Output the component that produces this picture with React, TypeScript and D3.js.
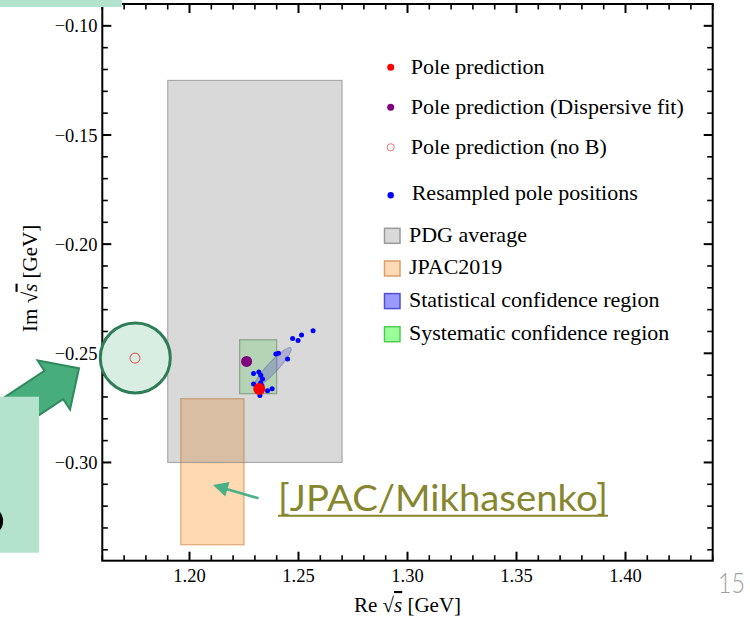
import React from "react";
import * as d3 from "d3";

// Axis ranges and tick labels
const reDomain = [1.16, 1.44];
const imDomain = [-0.09, -0.345];
const reTicks = [1.2, 1.25, 1.3, 1.35, 1.4];
const imTicks = [-0.1, -0.15, -0.2, -0.25, -0.3];

// Pole positions [Re, Im] in GeV
const polePrediction = [1.232, -0.2664];
const dispersivePole = [1.2262, -0.2537];
const noBPole = [1.175, -0.2522];

// Resampled pole positions
const resampledRe = [1.2567, 1.2514, 1.2473, 1.2498, 1.2396, 1.2408, 1.245, 1.2294, 1.2318, 1.2327, 1.2335, 1.2294, 1.2326, 1.2358, 1.2379, 1.2323, 1.2309, 1.2332];
const resampledIm = [-0.2397, -0.2416, -0.2432, -0.2441, -0.2503, -0.25, -0.2526, -0.2593, -0.2586, -0.2601, -0.2618, -0.2641, -0.2636, -0.2671, -0.2662, -0.2693, -0.2658, -0.2648];

// Regions: [reMin, reMax, imMin, imMax]
const pdgBox = [1.19, 1.27, -0.3, -0.125];
const jpacBox = [1.196, 1.225, -0.3377, -0.2708];
const systematicBox = [1.223, 1.24, -0.2685, -0.2438];
// Statistical ellipse: centre [Re, Im], semi-axes, tilt in degrees
const statCenter = [1.2382, -0.2564];
const statSemiAxes = [0.0122, 0.0024];
const statTilt = 47;

// Legend labels
const pointLabels = ["Pole prediction", "Pole prediction (Dispersive fit)", "Pole prediction (no B)", "Resampled pole positions"];
const regionLabels = ["PDG average", "JPAC2019", "Statistical confidence region", "Systematic confidence region"];

const W = 750;
const H = 627;
const serif = "'Liberation Serif', 'Times New Roman', serif";

export default function App() {
  const x = d3.scaleLinear().domain(reDomain).range([102.3, 712.7]);
  const y = d3.scaleLinear().domain(imDomain).range([4, 560.7]);
  const [x0, x1] = x.range();
  const [y0, y1] = y.range();

  const reMinor = d3.range(116, 145).filter((v) => v % 5 !== 0).map((v) => v / 100);
  const imMinor = d3.range(-34, -8).filter((v) => v % 5 !== 0).map((v) => v / 100);

  const box = (b: number[]) => ({
    x: x(b[0]),
    y: y(b[3]),
    width: x(b[1]) - x(b[0]),
    height: y(b[2]) - y(b[3]),
  });

  const ecx = x(statCenter[0]);
  const ecy = y(statCenter[1]);
  const erx = x(reDomain[0] + statSemiAxes[0]) - x(reDomain[0]);
  const ery = x(reDomain[0] + statSemiAxes[1]) - x(reDomain[0]);

  const majorLen = 9;
  const minorLen = 5.5;
  const fmt = (v: number) => (v < 0 ? "\u2212" + Math.abs(v).toFixed(2) : v.toFixed(2));

  // Legend layout
  const pointRows = [67.3, 107.3, 147.3, 195.3];
  const pointBase = [73.5, 113.5, 153.5, 199.5];
  const swatchTops = [228.3, 261, 293.6, 326.7];
  const swatchFill = ["#d9d9d9", "#fdd9b5", "#9999ff", "#99ff99"];
  const swatchStroke = ["#9a9a9a", "#d9a06a", "#5050d0", "#50cc50"];

  // Block arrow geometry
  const tip = [79, 368.3];
  const ux = 0.834, uy = -0.552;
  const nx = -0.552, ny = -0.834;
  const headLen = 30.2, headHalf = 29.4, shaftHalf = 17, tail = 130;
  const mx = tip[0] - ux * headLen, my = tip[1] - uy * headLen;
  const arrowPts = [
    [tip[0], tip[1]],
    [mx + nx * headHalf, my + ny * headHalf],
    [mx + nx * shaftHalf, my + ny * shaftHalf],
    [mx + nx * shaftHalf - ux * tail, my + ny * shaftHalf - uy * tail],
    [mx - nx * shaftHalf - ux * tail, my - ny * shaftHalf - uy * tail],
    [mx - nx * shaftHalf, my - ny * shaftHalf],
    [mx - nx * headHalf, my - ny * headHalf],
  ];

  // Thin pointer arrow
  const pStart = [258.5, 498.3];
  const pTip = [213, 485];
  const pdx = pTip[0] - pStart[0], pdy = pTip[1] - pStart[1];
  const pl = Math.hypot(pdx, pdy);
  const pux = pdx / pl, puy = pdy / pl;
  const ph = 15, pw = 7.5;
  const pbx = pTip[0] - pux * ph, pby = pTip[1] - puy * ph;

  return (
    <svg width={W} height={H} style={{ position: "absolute", left: 0, top: 0, background: "#fff" }}>
      {/* Regions */}
      <rect {...box(jpacBox)} fill="#ff8000" fillOpacity={0.3} stroke="#cc7a33" strokeOpacity={0.6} strokeWidth={1.2} />
      <rect {...box(pdgBox)} fill="#808080" fillOpacity={0.3} stroke="#808080" strokeOpacity={0.6} strokeWidth={1.2} />
      <rect {...box(systematicBox)} fill="#64c864" fillOpacity={0.3} stroke="#5a7a5a" strokeOpacity={0.55} strokeWidth={1.2} />
      <ellipse cx={ecx} cy={ecy} rx={erx} ry={ery} transform={`rotate(${-statTilt} ${ecx} ${ecy})`} fill="#5050c8" fillOpacity={0.3} stroke="#7070a0" strokeOpacity={0.5} strokeWidth={1} />

      {/* Resampled poles */}
      {resampledRe.map((re, i) => (
        <circle key={i} cx={x(re)} cy={y(resampledIm[i])} r={2.5} fill="#0000ff" />
      ))}
      <circle cx={x(dispersivePole[0])} cy={y(dispersivePole[1])} r={5.5} fill="#800080" />
      <circle cx={x(polePrediction[0])} cy={y(polePrediction[1])} r={6} fill="#ff0000" />

      {/* Frame */}
      <rect x={x0} y={y0} width={x1 - x0} height={y1 - y0} fill="none" stroke="#000" strokeWidth={2} />
      {reTicks.map((v) => (
        <g key={"rt" + v} stroke="#000" strokeWidth={2}>
          <line x1={x(v)} x2={x(v)} y1={y1} y2={y1 - majorLen} />
          <line x1={x(v)} x2={x(v)} y1={y0} y2={y0 + majorLen} />
        </g>
      ))}
      {reMinor.map((v) => (
        <g key={"rm" + v} stroke="#000" strokeWidth={1.6}>
          <line x1={x(v)} x2={x(v)} y1={y1} y2={y1 - minorLen} />
          <line x1={x(v)} x2={x(v)} y1={y0} y2={y0 + minorLen} />
        </g>
      ))}
      {imTicks.map((v) => (
        <g key={"it" + v} stroke="#000" strokeWidth={2}>
          <line x1={x0} x2={x0 + majorLen} y1={y(v)} y2={y(v)} />
          <line x1={x1} x2={x1 - majorLen} y1={y(v)} y2={y(v)} />
        </g>
      ))}
      {imMinor.map((v) => (
        <g key={"im" + v} stroke="#000" strokeWidth={1.6}>
          <line x1={x0} x2={x0 + minorLen} y1={y(v)} y2={y(v)} />
          <line x1={x1} x2={x1 - minorLen} y1={y(v)} y2={y(v)} />
        </g>
      ))}
      {reTicks.map((v) => (
        <text key={"rl" + v} x={x(v)} y={582} textAnchor="middle" fontFamily={serif} fontSize={18.5} fill="#000">
          {fmt(v)}
        </text>
      ))}
      {imTicks.map((v) => (
        <text key={"il" + v} x={97.5} y={y(v) + 6.6} textAnchor="end" fontFamily={serif} fontSize={18.5} fill="#000">
          {fmt(v)}
        </text>
      ))}
      <text x={(x0 + x1) / 2} y={612} textAnchor="middle" fontFamily={serif} fontSize={21} fill="#000">
        Re <tspan>√</tspan>
        <tspan fontStyle="italic" style={{ textDecoration: "overline" }}>s</tspan> [GeV]
      </text>
      <text transform={`translate(36.5, ${(y0 + y1) / 2 - 4}) rotate(-90)`} textAnchor="middle" fontFamily={serif} fontSize={21} fill="#000">
        Im <tspan>√</tspan>
        <tspan fontStyle="italic" style={{ textDecoration: "overline" }}>s</tspan> [GeV]
      </text>

      {/* Legend */}
      <circle cx={390.7} cy={pointRows[0]} r={3.5} fill="#ff0000" />
      <circle cx={390.7} cy={pointRows[1]} r={3.5} fill="#800080" />
      <circle cx={390.7} cy={pointRows[2]} r={3.6} fill="none" stroke="#f07070" strokeWidth={1} />
      <circle cx={390.7} cy={pointRows[3]} r={3.2} fill="#0000ff" />
      {pointLabels.map((t, i) => (
        <text key={t} x={i === 3 ? 411.7 : 410.7} y={pointBase[i]} fontFamily={serif} fontSize={22} fill="#000">
          {t}
        </text>
      ))}
      {regionLabels.map((t, i) => (
        <g key={t}>
          <rect x={384.5} y={swatchTops[i]} width={15.5} height={15} fill={swatchFill[i]} stroke={swatchStroke[i]} strokeWidth={1.5} />
          <text x={409} y={swatchTops[i] + 13.4} fontFamily={serif} fontSize={22} fill="#000">
            {t}
          </text>
        </g>
      ))}

      {/* Highlight of the pole without B */}
      <circle cx={x(noBPole[0]) + 0.3} cy={y(noBPole[1]) - 0.2} r={35} fill="#d9eee3" stroke="#2e7d57" strokeWidth={3} />
      <circle cx={x(noBPole[0])} cy={y(noBPole[1])} r={5} fill="none" stroke="#e06666" strokeWidth={1.1} />

      <polygon points={arrowPts.map((p) => p.join(",")).join(" ")} fill="#48ad7c" stroke="#2f8a5c" strokeWidth={2} strokeLinejoin="miter" />
      <rect x={0} y={396.7} width={39} height={156} fill="#b3e2cd" />
      <ellipse cx={-9} cy={521} rx={10.5} ry={12} fill="none" stroke="#000" strokeWidth={3.2} />
      <rect x={0} y={0} width={122} height={7} fill="#b3e2cd" />

      {/* Pointer to JPAC2019 */}
      <line x1={pStart[0]} y1={pStart[1]} x2={pbx + pux * 2} y2={pby + puy * 2} stroke="#4bb088" strokeWidth={2.6} />
      <polygon
        points={`${pTip[0]},${pTip[1]} ${pbx - puy * pw},${pby + pux * pw} ${pbx + puy * pw},${pby - pux * pw}`}
        fill="#4bb088"
      />
      <text x={278} y={511} fontFamily="Lato, 'Open Sans', sans-serif" fontWeight={400} fontSize={36} fill="#86862e" textLength={330} lengthAdjust="spacingAndGlyphs">
        [JPAC/Mikhasenko]
      </text>
      <line x1={278} x2={608} y1={515.8} y2={515.8} stroke="#86862e" strokeWidth={2} />

      <text x={718} y={593} fontFamily="Lato, sans-serif" fontWeight={300} fontSize={28} fill="#a0a0a0" textLength={27} lengthAdjust="spacingAndGlyphs">
        15
      </text>
    </svg>
  );
}
